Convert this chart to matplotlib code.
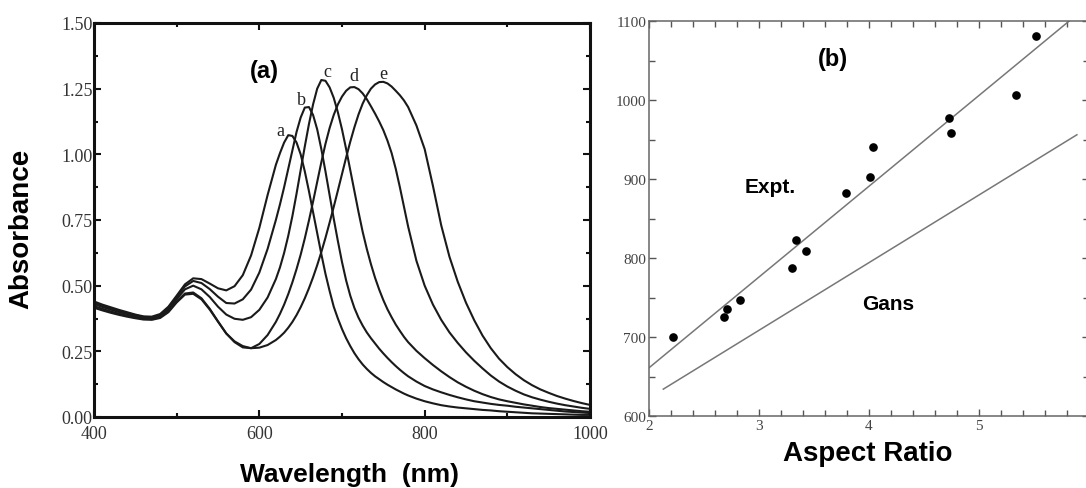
import matplotlib
matplotlib.use("Agg")
import matplotlib.pyplot as plt
from matplotlib.ticker import MultipleLocator, FormatStrFormatter

# (a) absorbance spectra (10 nm steps, 5 nm around the peaks)
wavelength = list(range(400, 621, 10)) + list(range(625, 781, 5)) + list(range(790, 1001, 10))
spec_a = [.440, .428, .418, .408, .399, .390, .383, .382, .392, .420, .462, .505, .528, .525, .508, .490,
          .482, .498, .540, .615, .720, .845, .960,
          1.005, 1.045, 1.073, 1.070, 1.045, 1.000, .935, .860, .780, .700, .620, .545, .480, .420, .375,
          .335, .300, .270, .243, .220, .200, .183, .168, .155, .144, .133, .123, .114, .105, .097, .089, .082,
          .070, .060, .052, .045, .040, .036, .033, .030, .027, .025, .022, .020, .018, .016, .014, .013,
          .012, .011, .010, .009, .008, .008]
spec_b = [.435, .424, .414, .404, .396, .388, .381, .380, .389, .416, .457, .497, .518, .510, .487, .458,
          .434, .432, .448, .485, .550, .640, .750,
          .810, .875, .945, 1.015, 1.085, 1.140, 1.178, 1.180, 1.150, 1.095, 1.020, .935, .845, .755, .670,
          .590, .520, .462, .415, .378, .348, .322, .300, .280, .260, .242, .225, .209, .194, .180, .167, .155,
          .135, .118, .105, .094, .084, .075, .067, .060, .055, .050, .046, .043, .039, .036, .033, .030,
          .027, .024, .021, .019, .017, .015]
spec_c = [.430, .419, .409, .400, .392, .384, .378, .377, .385, .410, .449, .486, .500, .486, .457, .420,
          .390, .374, .370, .380, .408, .455, .525,
          .570, .625, .690, .765, .850, .940, 1.030, 1.115, 1.190, 1.250, 1.283, 1.280, 1.255, 1.215, 1.160,
          1.095, 1.020, .940, .860, .780, .705, .640, .582, .530, .485, .445, .410, .380, .352, .328, .305, .285,
          .252, .224, .198, .174, .152, .132, .115, .100, .087, .076, .067, .060, .054, .048, .043, .038,
          .034, .031, .028, .025, .022, .020]
spec_d = [.422, .412, .402, .394, .386, .379, .374, .373, .380, .403, .440, .470, .474, .452, .412, .364,
          .318, .285, .265, .262, .278, .312, .362,
          .393, .428, .468, .513, .563, .618, .680, .748, .820, .895, .970, 1.040, 1.100, 1.150, 1.190,
          1.220, 1.242, 1.255, 1.256, 1.248, 1.232, 1.210, 1.183, 1.155, 1.125, 1.092, 1.052, 1.005, .945,
          .875, .800, .725,
          .595, .500, .428, .370, .322, .282, .246, .214, .185, .158, .135, .116, .100, .086, .075, .066,
          .058, .051, .045, .040, .035, .031]
spec_e = [.416, .406, .397, .389, .382, .376, .371, .370, .377, .399, .436, .466, .469, .448, .409, .363,
          .318, .288, .270, .262, .264, .274, .293,
          .306, .321, .340, .362, .388, .418, .452, .490, .532, .578, .628, .682, .740, .800, .862,
          .925, .988, 1.048, 1.103, 1.152, 1.193, 1.225, 1.250, 1.266, 1.275, 1.276, 1.270, 1.258, 1.242,
          1.225, 1.205, 1.180,
          1.110, 1.020, .880, .730, .610, .515, .435, .368, .310, .262, .222, .190, .163, .140, .121, .105,
          .092, .080, .070, .061, .053, .046]
spectra = [spec_a, spec_b, spec_c, spec_d, spec_e]
curve_names = ["a", "b", "c", "d", "e"]
peak_label_pos = [(626, 1.09), (651, 1.207), (682, 1.315), (714, 1.30), (750, 1.306)]

# (b) plasmon peak vs aspect ratio
aspect_ratio = [2.22, 2.68, 2.705, 2.83, 3.30, 3.34, 3.43, 3.79, 4.01, 4.04, 4.73, 4.745, 5.34, 5.52]
peak_nm = [700, 725, 736, 747, 787, 823, 809, 882, 903, 940, 977, 958, 1006, 1081]
expt_x = [2.0, 5.82]
expt_y = [661, 1100]
gans_x = [2.13, 5.89]
gans_y = [634, 956]

serif = "Liberation Serif"
sans = "Liberation Sans"

fig = plt.figure(figsize=(10.86, 4.89), dpi=100)

# ---- panel (a)
ax1 = fig.add_axes([94 / 1086, 71 / 489, 496 / 1086, 394 / 489])
for y in spectra:
    ax1.plot(wavelength, y, color="#1a1a1a", lw=1.5)
for name, (px, py) in zip(curve_names, peak_label_pos):
    ax1.text(px, py, name, family=serif, fontsize=13, ha="center", va="center", color="#222")
ax1.text(606, 1.32, "(a)", family=sans, weight="bold", fontsize=17, ha="center", va="center")

ax1.set_xlim(400, 1000)
ax1.set_ylim(0, 1.5)
ax1.xaxis.set_major_locator(MultipleLocator(200))
ax1.xaxis.set_minor_locator(MultipleLocator(100))
ax1.yaxis.set_major_locator(MultipleLocator(0.25))
ax1.yaxis.set_minor_locator(MultipleLocator(0.125))
ax1.yaxis.set_major_formatter(FormatStrFormatter("%.2f"))
ax1.tick_params(which="both", direction="in", top=True, right=True, width=1.5, color="#111")
ax1.tick_params(which="major", length=5)
ax1.tick_params(which="minor", length=3)
ax1.tick_params(axis="x", pad=6)
ax1.tick_params(axis="y", pad=1)
for lab in ax1.get_xticklabels() + ax1.get_yticklabels():
    lab.set_family(serif)
    lab.set_fontsize(13)
    lab.set_color("#333")
for sp in ax1.spines.values():
    sp.set_linewidth(2.2)
    sp.set_color("#111")
ax1.set_ylabel("Absorbance", family=sans, weight="bold", fontsize=20)
ax1.yaxis.set_label_coords(-0.12, 0.48)
ax1.set_xlabel("Wavelength  (nm)", family=sans, weight="bold", fontsize=19)
ax1.xaxis.set_label_coords(0.516, -0.115)

# ---- panel (b)
ax2 = fig.add_axes([649 / 1086, 72 / 489, 440 / 1086, 395 / 489])
ax2.plot(expt_x, expt_y, color="#777", lw=1.1)
ax2.plot(gans_x, gans_y, color="#777", lw=1.1)
ax2.plot(aspect_ratio, peak_nm, "o", color="black", ms=5.2)
ax2.text(3.67, 1053, "(b)", family=sans, weight="bold", fontsize=17, ha="center", va="center")
ax2.text(3.1, 890, "Expt.", family=sans, weight="bold", fontsize=15, ha="center", va="center")
ax2.text(4.17, 743, "Gans", family=sans, weight="bold", fontsize=15, ha="center", va="center")

ax2.set_xlim(2, 6)
ax2.set_ylim(600, 1100)
ax2.xaxis.set_major_locator(MultipleLocator(1))
ax2.xaxis.set_minor_locator(MultipleLocator(0.2))
ax2.yaxis.set_major_locator(MultipleLocator(100))
ax2.yaxis.set_minor_locator(MultipleLocator(50))
ax2.tick_params(which="both", direction="in", top=True, right=True, color="#555", width=1)
ax2.tick_params(which="major", length=5, pad=2)
ax2.tick_params(which="minor", length=4)
for lab in ax2.get_xticklabels() + ax2.get_yticklabels():
    lab.set_family(serif)
    lab.set_fontsize(11)
    lab.set_color("#444")
for sp in ax2.spines.values():
    sp.set_linewidth(1.1)
    sp.set_color("#666")
ax2.set_xlabel("Aspect Ratio", family=sans, weight="bold", fontsize=20)
ax2.xaxis.set_label_coords(0.498, -0.062)

fig.savefig("out.png", dpi=100)
